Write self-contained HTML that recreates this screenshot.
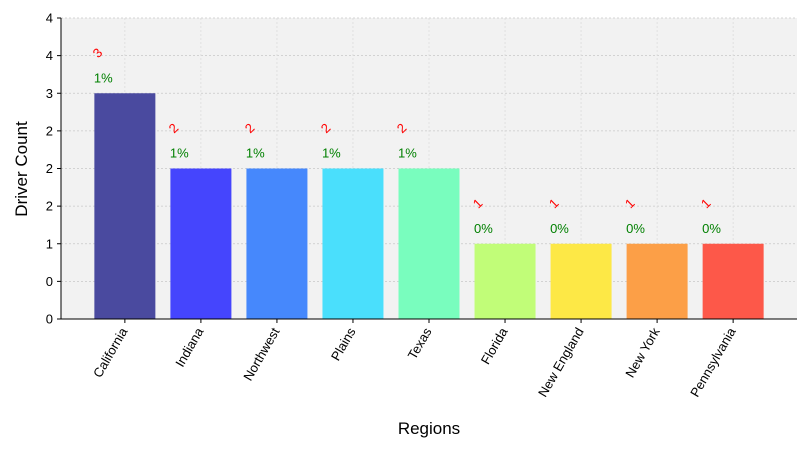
<!DOCTYPE html>
<html><head><meta charset="utf-8"><style>
body{margin:0;background:#fff;font-family:"Liberation Sans",sans-serif}
</style></head><body>
<svg id="chart" width="810" height="450" xmlns="http://www.w3.org/2000/svg"></svg>
<script>
const categories=["California","Indiana","Northwest","Plains","Texas","Florida","New England","New York","Pennsylvania"];
const counts=[3,2,2,2,2,1,1,1,1];
const percents=["1%","1%","1%","1%","1%","0%","0%","0%","0%"];
const colors=["#4a4a9f","#4545fd","#4688fc","#4adffc","#79fdbe","#c1fd78","#fde846","#fc9f47","#fd5849"];
const yTicks=[0,0.5,1,1.5,2,2.5,3,3.5,4];
const yTickLabels=["0","0","1","2","2","2","3","4","4"];
const L=61,R=797,T=18,B=319,xmin=-0.84,xmax=8.84,ymax=4;
const xs=i=>L+(i-xmin)/(xmax-xmin)*(R-L);
const ys=v=>B-v/ymax*(B-T);
const svg=document.getElementById('chart');
const NS="http://www.w3.org/2000/svg";
function mk(t,a,txt){const e=document.createElementNS(NS,t);for(const k in a)e.setAttribute(k,a[k]);if(txt!==undefined)e.textContent=txt;svg.appendChild(e);return e;}
let bg=mk('rect',{x:L,y:T,width:R-L,height:B-T,fill:'#f2f2f2'});


yTicks.forEach((v,i)=>{
 let g=mk('line',{x1:L,x2:R,y1:ys(v),y2:ys(v),stroke:'#c8c8c8','stroke-dasharray':'2,2','stroke-width':0.8});
 
 
 mk('line',{x1:L-4,x2:L,y1:ys(v),y2:ys(v),stroke:'#000'});
 let t=mk('text',{x:L-8,y:ys(v)+4.5,'text-anchor':'end','font-size':13,fill:'#000'},yTickLabels[i]);
 
 
});
categories.forEach((c,i)=>{
 const x=xs(i);
 let g=mk('line',{x1:x,x2:x,y1:T,y2:B,stroke:'#dcdcdc','stroke-dasharray':'2,2','stroke-width':0.8});
 
 
});
categories.forEach((c,i)=>{
 const x=xs(i),w=61,top=ys(counts[i]);
 let b=mk('rect',{x:x-w/2,y:top,width:w,height:B-top,fill:colors[i]});
 
 
 let p=mk('text',{x:x-31,y:top-11,'font-size':13,fill:'#008000'},percents[i]);
 
 
 let cx=x-27,cy=top-36;
 let v=mk('text',{x:cx,y:cy,'font-size':13,fill:'#ff0000','text-anchor':'middle',transform:`rotate(-45 ${cx} ${cy-4})`},String(counts[i]));
 
 
 mk('line',{x1:x,x2:x,y1:B,y2:B+4,stroke:'#000'});
 let t=mk('text',{x:x+3,y:B+12,'font-size':13,'text-anchor':'end',transform:`rotate(-60 ${x+3} ${B+12})`},c);
 
 
});
mk('line',{x1:L,x2:L,y1:T,y2:B,stroke:'#000'});
mk('line',{x1:L,x2:R,y1:B,y2:B,stroke:'#000'});
let xt=mk('text',{x:429,y:434,'font-size':17,'text-anchor':'middle'},'Regions');


let yt=mk('text',{x:27,y:169,'font-size':17,'text-anchor':'middle',transform:'rotate(-90 27 169)'},'Driver Count');


</script>
</body></html>
